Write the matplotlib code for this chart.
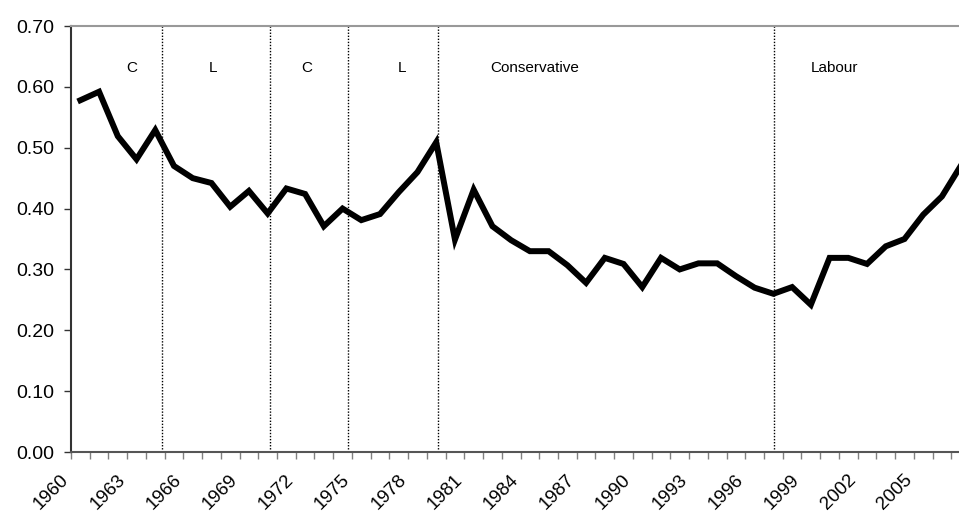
import matplotlib.pyplot as plt
import matplotlib.transforms as mtransforms

years = list(range(1960, 2008))
values = [0.578, 0.592, 0.519, 0.481, 0.529, 0.470, 0.450, 0.442, 0.403, 0.429,
          0.392, 0.433, 0.424, 0.371, 0.400, 0.381, 0.391, 0.427, 0.460, 0.509,
          0.349, 0.431, 0.371, 0.348, 0.330, 0.330, 0.307, 0.278, 0.319, 0.309,
          0.271, 0.319, 0.300, 0.310, 0.310, 0.289, 0.270, 0.260, 0.271, 0.242,
          0.319, 0.319, 0.309, 0.338, 0.350, 0.390, 0.420, 0.470]

# changes of government (fractional year positions)
changes = [1964.37, 1970.12, 1974.3, 1979.09, 1997.03]
party_labels = ['C', 'L', 'C', 'L', 'Conservative', 'Labour']
party_x = [1962.75, 1967.1, 1972.1, 1977.15, 1981.9, 1999.0]
party_ha = ['center', 'center', 'center', 'center', 'left', 'left']

yticks = [0.0, 0.1, 0.2, 0.3, 0.4, 0.5, 0.6, 0.7]
label_years = list(range(1960, 2006, 3))

plt.rcParams['font.family'] = ['Liberation Sans', 'DejaVu Sans']

fig = plt.figure(figsize=(9.59, 5.18), dpi=100)
ax = fig.add_axes([0.074, 0.1274, 0.926, 0.8224])

ax.plot(years, values, color='black', lw=4.3, solid_joinstyle='miter', clip_on=True)

for x in changes:
    ax.axvline(x, ymin=0.008, ymax=1, color='black', lw=1.0, ls=(0, (1, 1.2)))

for t, x, ha in zip(party_labels, party_x, party_ha):
    ax.text(x, 0.631, t, ha=ha, va='center', fontsize=11)

ax.set_xlim(1959.5, 2006.91)
ax.set_ylim(0, 0.70)

ax.set_yticks(yticks)
ax.set_yticklabels(['%.2f' % v for v in yticks], fontsize=14)
ax.tick_params(axis='y', direction='out', length=5, width=1, color='#333333', pad=7)

ax.set_xticks([y - 0.5 for y in range(1960, 2008)])
ax.set_xticklabels([])
ax.tick_params(axis='x', which='major', direction='out', length=5, width=1, color='#808080')
ax.set_xticks(label_years, minor=True)
ax.set_xticklabels([str(y) for y in label_years], minor=True, rotation=45,
                   ha='right', va='top', fontsize=13.5)
ax.tick_params(axis='x', which='minor', length=0, pad=14)
offset = mtransforms.ScaledTranslation(-0.08, 0, fig.dpi_scale_trans)
for lab in ax.get_xticklabels(minor=True):
    lab.set_transform(lab.get_transform() + offset)

ax.spines['left'].set_color('#333333')
ax.spines['left'].set_linewidth(1.5)
ax.spines['bottom'].set_color('#555555')
ax.spines['bottom'].set_linewidth(1.5)
ax.spines['top'].set_color('#999999')
ax.spines['top'].set_linewidth(1.5)
ax.spines['right'].set_visible(False)

fig.savefig('out.png', dpi=100)
